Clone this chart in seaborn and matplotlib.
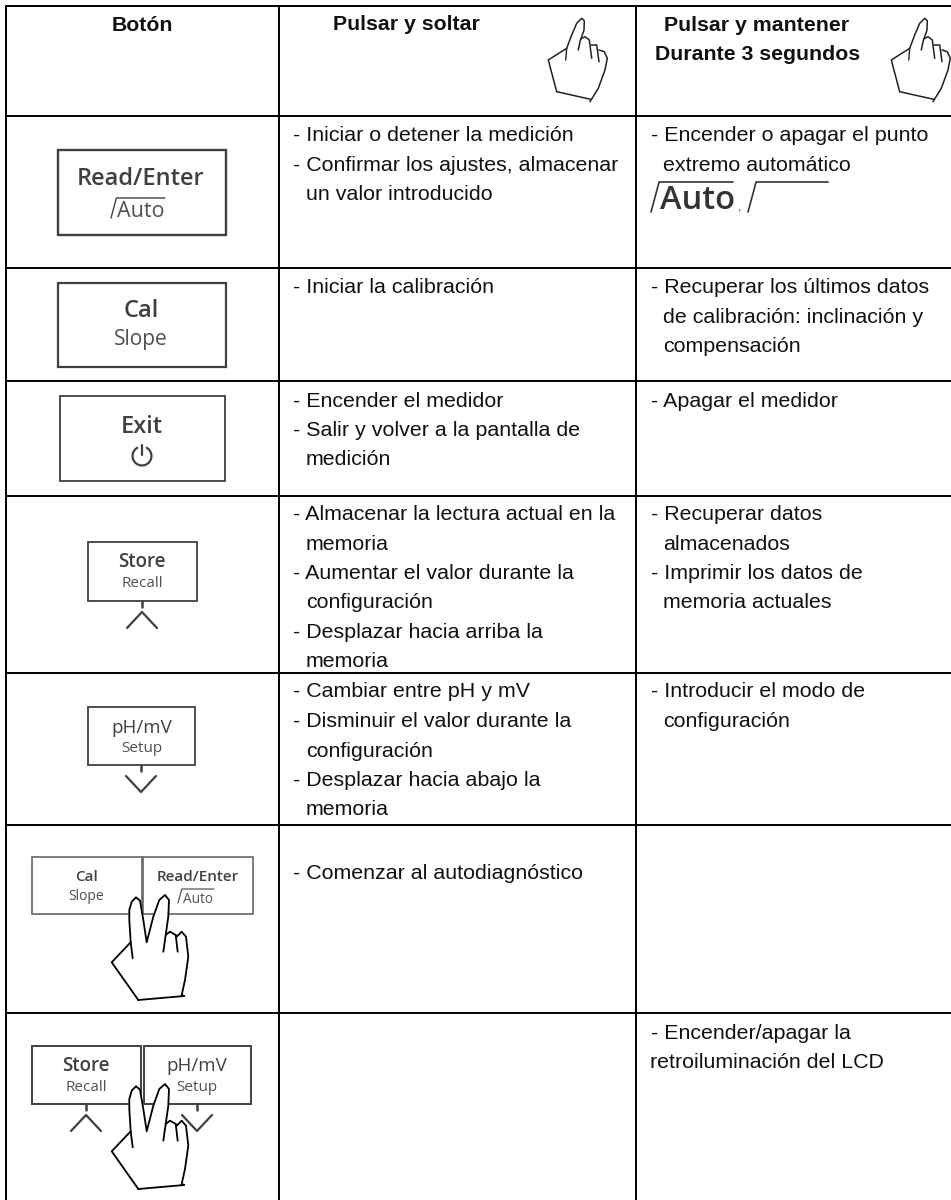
import numpy as np
import seaborn as sns
import matplotlib.pyplot as plt
from matplotlib.patches import Rectangle

# table grid
row_edges = [6, 116, 268, 381, 496, 673, 825, 1013]
col_edges = [6, 278.5, 636]

# text of the table
header_labels = ["Botón", "Pulsar y soltar", "Pulsar y mantener", "Durante 3 segundos"]
header_x = [142, 333, 664, 655]
header_y = [31, 30, 31, 60]

col2_lines = [
    "- Iniciar o detener la medición", "- Confirmar los ajustes, almacenar", "un valor introducido",
    "- Iniciar la calibración",
    "- Encender el medidor", "- Salir y volver a la pantalla de", "medición",
    "- Almacenar la lectura actual en la", "memoria", "- Aumentar el valor durante la",
    "configuración", "- Desplazar hacia arriba la", "memoria",
    "- Cambiar entre pH y mV", "- Disminuir el valor durante la", "configuración",
    "- Desplazar hacia abajo la", "memoria",
    "- Comenzar al autodiagnóstico",
]
col2_y = [141, 171, 200, 293, 407, 436, 465, 520, 550, 579, 608, 638, 667, 697, 727, 757, 786, 815, 879]

col3_lines = [
    "- Encender o apagar el punto", "extremo automático",
    "- Recuperar los últimos datos", "de calibración: inclinación y", "compensación",
    "- Apagar el medidor",
    "- Recuperar datos", "almacenados", "- Imprimir los datos de", "memoria actuales",
    "- Introducir el modo de", "configuración",
    "- Encender/apagar la",
]
col3_y = [141, 171, 293, 323, 352, 407, 520, 550, 579, 608, 697, 727, 1039]

# button faces: x0, x1, y0, y1
button_boxes = [(58, 226, 150, 235), (58, 226, 283, 367), (60, 225, 396, 481),
                (88, 197, 542, 601), (88, 195, 707, 765),
                (32, 141.5, 857, 914), (143, 253, 857, 914),
                (32, 141, 1046, 1104), (144, 251, 1046, 1104)]
button_lw = [1.7, 1.6, 1.3, 1.3, 1.3, 1.2, 1.2, 1.4, 1.4]
button_edge = ["#404040"] * 5 + ["#666666", "#666666", "#404040", "#404040"]

button_top = ["Read/Enter", "Cal", "Exit", "Store", "pH/mV", "Cal", "Read/Enter", "Store", "pH/mV"]
button_sub = [None, "Slope", None, "Recall", "Setup", "Slope", None, "Recall", "Setup"]
button_cx = [141, 141, 142, 142, 141.5, 86, 198, 86, 197]
button_top_y = [185, 317, 433, 567, 733, 881, 881, 1071, 1071]
button_sub_y = [None, 345, None, 587, 752, 900, None, 1091, 1091]
button_top_size = [17, 17, 17, 13.5, 13.5, 11, 11, 13.5, 13.5]
button_top_weight = [600, 600, 600, 600, 500, 600, 600, 600, 500]
button_sub_size = [None, 15, None, 11, 11, 10, None, 11, 11]

# little arrows under the Store / pH buttons
arrow_x = [142, 141, 86, 197]
arrow_box_bottom = [601, 765, 1104, 1104]
arrow_dir = [-1, 1, -1, 1]

# hand pointing (header)
point_hand_x = [556.7, 548.3, 566.7, 571.7, 576.7, 581.7, 584.3, 584, 580, 578.3]
point_hand_y = [91.7, 60, 48.3, 35, 23.3, 18.3, 20.7, 30, 41.7, 50]
point_crease_x = [566.7, 565.7]
point_crease_y = [48.3, 60]
point_rest_x = [580.5, 585, 589.3, 591.7, None, 591, 596.7, 599, None, 599, 604.3, 607.3, 605, 598.3, 590, None, 590.7, 556.7]
point_rest_y = [39, 36.7, 40, 58.3, None, 45, 45, 61.7, None, 50, 51.7, 58.3, 70, 88.3, 101.7, None, 99.3, 91.7]

# hand with two fingers
two_hand_x = [138.3, 111.7, 130.7, 129.3, 129.3, 131.7, 136, 140, 143.3, 146.7, 153.3, 159.3, 165, 169,
              168.3, 165.7, 170, 175.7, 176.7, 181.7, 186, 188.3, 185, 181.7, 184.3, 138.3]
two_hand_y = [1000, 962.3, 942.3, 920, 910, 901.7, 897.3, 900.7, 920, 942.3, 916.7, 900, 895, 900,
              916.7, 935, 931.7, 935, 936.7, 931.7, 936.7, 956.7, 980, 995, 996, 1000]
two_crease_x = [[130.7, 132.7], [165.7, 163.3], [175.7, 177.7]]
two_crease_y = [[942.3, 958.3], [935, 951.7], [935, 951.7]]

sns.set_theme(style="white")
plt.rcParams['font.family'] = ['Liberation Sans', 'DejaVu Sans']

fig, ax = plt.subplots(figsize=(9.51, 12), dpi=100)
fig.subplots_adjust(left=0, right=1, top=1, bottom=0)

INK = "#111111"
BTN = "#404040"
BTN_FONT = ['Open Sans', 'DejaVu Sans']


def draw_line(xs, ys, color=INK, lw=1.3, zorder=2):
    sns.lineplot(x=xs, y=ys, sort=False, estimator=None, color=color, linewidth=lw,
                 zorder=zorder, ax=ax, legend=False)


def draw_broken(xs, ys, dx=0, lw=1.1):
    # None splits a path in pieces
    part_x, part_y = [], []
    for px, py in zip(list(xs) + [None], list(ys) + [None]):
        if px is None:
            draw_line(np.array(part_x) + dx, part_y, color="#222222", lw=lw)
            part_x, part_y = [], []
        else:
            part_x.append(px)
            part_y.append(py)


def auto_mark(x, y, w, h, color, lw, zorder=3):
    draw_line([x, x + h * 0.27, x + w], [y, y - h, y - h], color=color, lw=lw, zorder=zorder)


# grid
for y in row_edges:
    draw_line([col_edges[0], 951], [y, y], color="black", lw=1.4)
for x in col_edges:
    draw_line([x, x], [row_edges[0], 1200], color="black", lw=1.4)

# header
for label, x, y in zip(header_labels, header_x, header_y):
    ax.text(x, y, label, fontsize=15.3, fontweight="bold", color=INK, va="baseline",
            ha="center" if label == "Botón" else "left")

# body text
for line, y in zip(col2_lines, col2_y):
    ax.text(293 if line.startswith("-") else 306, y, line, fontsize=15.4, color=INK, va="baseline")
for line, y in zip(col3_lines, col3_y):
    ax.text(651 if line.startswith("-") else 663, y, line, fontsize=15.4, color=INK, va="baseline")
ax.text(650, 1068, "retroiluminación del LCD", fontsize=15.4, color=INK, va="baseline")

# big Auto in the third column
auto_mark(651, 212, 82, 30, "#333333", 1.2)
ax.text(660, 209, "Auto", fontsize=23.5, fontweight=600, family=BTN_FONT, color="#333333", va="baseline")
ax.text(738, 210, ",", fontsize=9, color="#333333", va="baseline")
auto_mark(748, 212, 80, 30, "#333333", 1.2)

# buttons
for box, lw, edge in zip(button_boxes, button_lw, button_edge):
    ax.add_patch(Rectangle((box[0], box[2]), box[1] - box[0], box[3] - box[2], fill=False,
                           edgecolor=edge, linewidth=lw, zorder=2))
for i, top in enumerate(button_top):
    ax.text(button_cx[i], button_top_y[i], top, fontsize=button_top_size[i], fontweight=button_top_weight[i],
            family=BTN_FONT, color=BTN, ha="center", va="baseline")
    if button_sub[i]:
        ax.text(button_cx[i], button_sub_y[i], button_sub[i], fontsize=button_sub_size[i],
                family=BTN_FONT, color="#505050", ha="center", va="baseline")

# /Auto under Read/Enter
auto_mark(111, 218, 54, 20, BTN, 1.0)
ax.text(117, 217, "Auto", fontsize=15.5, family=BTN_FONT, color="#505050", va="baseline")
auto_mark(178, 903, 36, 14, BTN, 0.8)
ax.text(183, 903, "Auto", fontsize=9.8, family=BTN_FONT, color="#505050", va="baseline")

# power sign on Exit
power_t = np.radians(np.arange(30, 331, 15))
draw_line(142 + 9.5 * np.sin(power_t), 456 - 9.5 * np.cos(power_t), color=BTN, lw=1.6)
draw_line([142, 142], [445, 455], color=BTN, lw=1.6)

# arrows
for x, bottom, d in zip(arrow_x, arrow_box_bottom, arrow_dir):
    draw_line([x, x], [bottom, bottom + 6], color=BTN, lw=1.8)
    y0 = bottom + 11 if d > 0 else bottom + 27
    draw_line([x - 15, x, x + 15], [y0, y0 + d * 16, y0], color=BTN, lw=1.6)

# hands of the header
for dx in [0, 343]:
    draw_line(np.array(point_hand_x) + dx, point_hand_y, color="#222222", lw=1.1)
    draw_line(np.array(point_crease_x) + dx, point_crease_y, color="#222222", lw=1.0)
    draw_broken(point_rest_x, point_rest_y, dx=dx)

# hands over the buttons
for dy in [0, 189]:
    ax.fill(two_hand_x, np.array(two_hand_y) + dy, color="white", zorder=5)
    draw_line(two_hand_x, np.array(two_hand_y) + dy, color="black", lw=1.3, zorder=6)
    for cx, cy in zip(two_crease_x, two_crease_y):
        draw_line(cx, np.array(cy) + dy, color="black", lw=1.3, zorder=6)

ax.set_xlim(0, 951)
ax.set_ylim(1200, 0)
ax.axis("off")

fig.savefig("out.png", dpi=100)
